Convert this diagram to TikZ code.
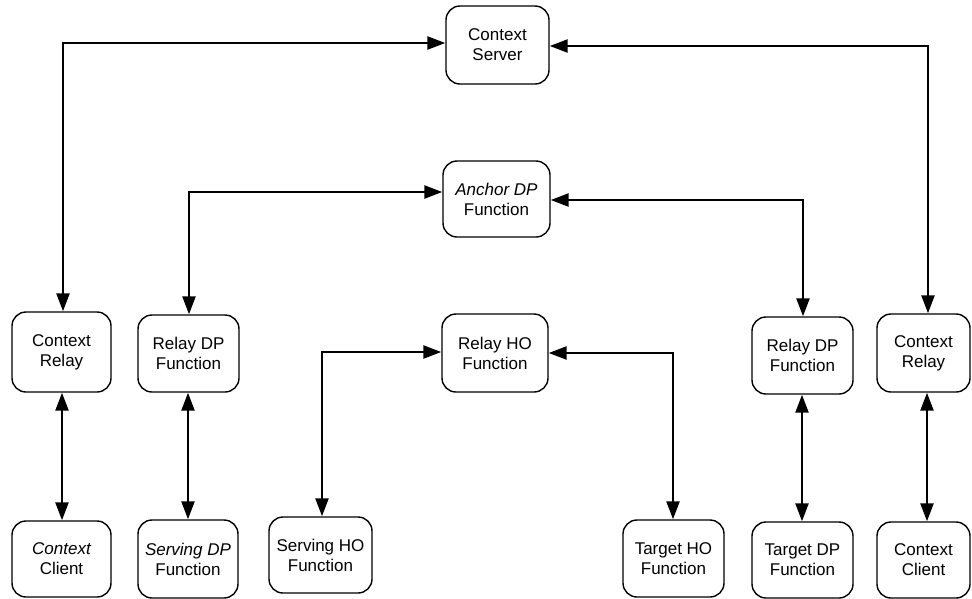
\documentclass[tikz,border=0pt]{standalone}
\usepackage{fontspec}
\setmainfont{Liberation Sans}
\usetikzlibrary{arrows.meta}
\begin{document}
\begin{tikzpicture}[x=1pt,y=-1pt,
  box/.style={draw, line width=1.4pt, rounded corners=14pt, align=center,
    inner sep=0pt, font=\fontsize{17}{20}\selectfont},
  link/.style={line width=2.4pt,
    {Triangle[length=18pt,width=13pt]}-{Triangle[length=18pt,width=13pt]}}]
\useasboundingbox (0,0) rectangle (972,598);

% central column
\node[box, minimum width=103pt, minimum height=78pt] (srv) at (497.5,45) {Context\\Server};
\node[box, minimum width=107pt, minimum height=76pt] (anc) at (496.5,199) {\itshape Anchor DP\\Function};
\node[box, minimum width=106pt, minimum height=78pt] (rho) at (495,353) {Relay HO\\Function};

% middle row
\node[box, minimum width=99pt, minimum height=80pt] (crL) at (61.5,352) {Context\\Relay};
\node[box, minimum width=101pt, minimum height=77pt] (rdL) at (188.5,353.5) {Relay DP\\Function};
\node[box, minimum width=101pt, minimum height=77pt] (rdR) at (802.5,355.5) {Relay DP\\Function};
\node[box, minimum width=93pt, minimum height=78pt] (crR) at (923.5,353) {Context\\Relay};

% bottom row
\node[box, minimum width=99pt, minimum height=76pt] (ccL) at (61.5,559) {\itshape Context\\Client};
\node[box, minimum width=100pt, minimum height=78pt] (sdp) at (188,559) {\itshape Serving DP\\Function};
\node[box, minimum width=103pt, minimum height=76pt] (sho) at (320.5,555) {Serving HO\\Function};
\node[box, minimum width=101pt, minimum height=77pt] (tho) at (673.5,558.5) {Target HO\\Function};
\node[box, minimum width=101pt, minimum height=76pt] (tdp) at (802.5,560) {Target DP\\Function};
\node[box, minimum width=93pt, minimum height=76pt] (ccR) at (923.5,560) {Context\\Client};

% bend points of the elbow connectors
\coordinate (k1) at (63,43);
\coordinate (k2) at (928,46);
\coordinate (k3) at (189,192);
\coordinate (k4) at (803,200);
\coordinate (k5) at (322,352);
\coordinate (k6) at (673,353);
% x positions of the vertical connectors
\coordinate (v1) at (62,0);
\coordinate (v2) at (188,0);
\coordinate (v3) at (802,0);
\coordinate (v4) at (927,0);

\draw[link] (srv.west |- k1) -| (crL.north -| k1);
\draw[link] (srv.east |- k2) -| (crR.north -| k2);
\draw[link] (anc.west |- k3) -| (rdL.north -| k3);
\draw[link] (anc.east |- k4) -| (rdR.north -| k4);
\draw[link] (rho.west |- k5) -| (sho.north -| k5);
\draw[link] (rho.east |- k6) -| (tho.north -| k6);

\draw[link] (crL.south -| v1) -- (ccL.north -| v1);
\draw[link] (rdL.south -| v2) -- (sdp.north -| v2);
\draw[link] (rdR.south -| v3) -- (tdp.north -| v3);
\draw[link] (crR.south -| v4) -- (ccR.north -| v4);
\end{tikzpicture}
\end{document}
